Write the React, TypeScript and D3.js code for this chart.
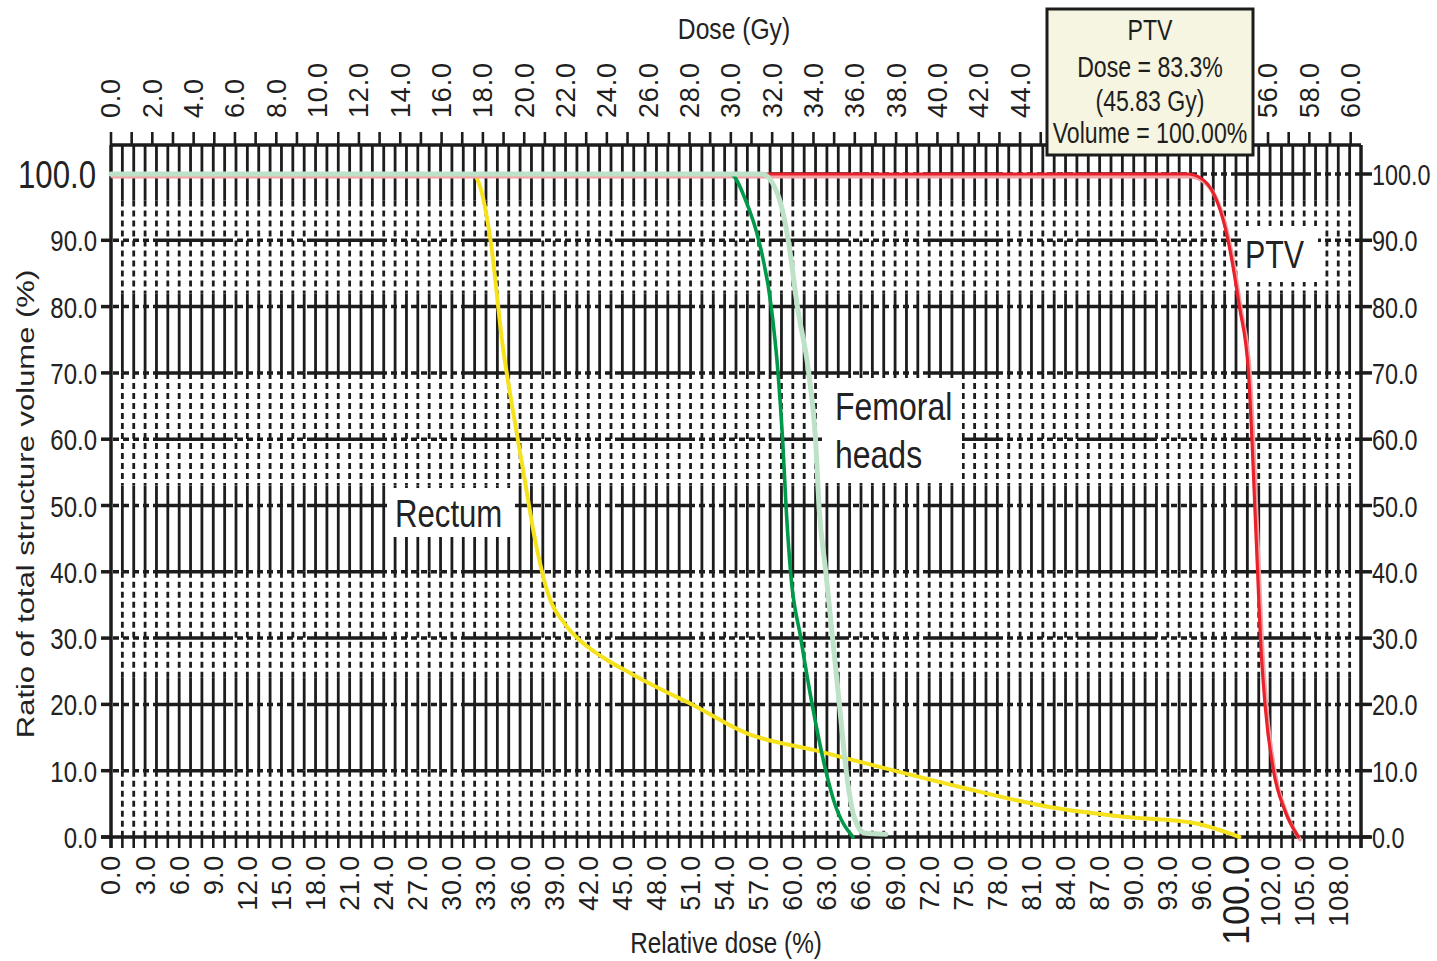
import * as d3 from "d3";

const FONT = '"Liberation Sans", Arial, Helvetica, sans-serif';
const INK = "#1c1c1c";

// DVH curves: relative dose (%) vs ratio of total structure volume (%)
const rectumDose = [0, 31.8, 32.4, 33.4, 34.5, 35.3, 36.3, 37.3, 38.4, 40.0, 41.3, 43.1, 45.7, 48.6, 51.0, 56.0, 61.9, 67.8, 74.8, 82.7, 89.5, 95.3, 99.3];
const rectumVol = [100, 100, 98.5, 90, 73.7, 65, 55, 45, 37, 32, 29.6, 27.3, 24.7, 22.1, 20.1, 15.6, 13.1, 10.5, 7.5, 4.5, 3.0, 2.1, 0];

const femDarkDose = [0, 54.5, 55.9, 57.0, 58.1, 58.7, 59.1, 59.4, 59.8, 60.7, 61.7, 62.9, 63.6, 65.3];
const femDarkVol = [100, 100, 95.8, 90, 80, 70, 60, 50, 40, 30, 20, 10, 5.5, 0];

const femLightDose = [0, 57.3, 58.7, 59.6, 60.4, 61.4, 62.0, 62.3, 62.9, 63.5, 64.1, 64.7, 65.4, 66.3, 68.2];
const femLightVol = [100, 100, 96.8, 90, 80, 70, 60, 50, 40, 30, 20, 10, 3, 0.6, 0.4];

const ptvDose = [0, 94.8, 96.2, 98.3, 99.3, 100.1, 100.4, 100.65, 100.9, 101.15, 101.55, 102.3, 103.3, 104.5];
const ptvVol = [100, 100, 99, 90, 80, 70, 60, 50, 40, 30, 20, 10, 4, 0];

// axes
const relTickValues = [0, 3, 6, 9, 12, 15, 18, 21, 24, 27, 30, 33, 36, 39, 42, 45, 48, 51, 54, 57, 60, 63, 66, 69, 72, 75, 78, 81, 84, 87, 90, 93, 96, 99, 102, 105, 108];
const relTickLabels = ["0.0", "3.0", "6.0", "9.0", "12.0", "15.0", "18.0", "21.0", "24.0", "27.0", "30.0", "33.0", "36.0", "39.0", "42.0", "45.0", "48.0", "51.0", "54.0", "57.0", "60.0", "63.0", "66.0", "69.0", "72.0", "75.0", "78.0", "81.0", "84.0", "87.0", "90.0", "93.0", "96.0", "100.0", "102.0", "105.0", "108.0"];
const gyTickValues = [0, 2, 4, 6, 8, 10, 12, 14, 16, 18, 20, 22, 24, 26, 28, 30, 32, 34, 36, 38, 40, 42, 44, 46, 48, 50, 52, 54, 56, 58, 60];
const gyTickLabels = ["0.0", "2.0", "4.0", "6.0", "8.0", "10.0", "12.0", "14.0", "16.0", "18.0", "20.0", "22.0", "24.0", "26.0", "28.0", "30.0", "32.0", "34.0", "36.0", "38.0", "40.0", "42.0", "44.0", "46.0", "48.0", "50.0", "52.0", "54.0", "56.0", "58.0", "60.0"];
const volTickValues = [0, 10, 20, 30, 40, 50, 60, 70, 80, 90, 100];
const volTickLabels = ["0.0", "10.0", "20.0", "30.0", "40.0", "50.0", "60.0", "70.0", "80.0", "90.0", "100.0"];

const ptvBoxLines = ["PTV", "Dose = 83.3%", "(45.83 Gy)", "Volume = 100.00%"];

// the scanned grid shows solid / dashed bands on the vertical lines
const gridBands = [
  { from: 105, to: 96, dashed: false },
  { from: 96, to: 82, dashed: true },
  { from: 82, to: 70, dashed: false },
  { from: 70, to: 53, dashed: true },
  { from: 53, to: 40, dashed: false },
  { from: 40, to: 24, dashed: true },
  { from: 24, to: 10, dashed: false },
  { from: 10, to: 0, dashed: true },
];

function HText({ x, y, size, anchor = "middle", sx = 0.8, children, fill = "#222" }: any) {
  return (
    <text
      transform={`translate(${x},${y}) scale(${sx},1)`}
      textAnchor={anchor}
      fontSize={size}
      fontFamily={FONT}
      fill={fill}
    >
      {children}
    </text>
  );
}

export default function App() {
  const x = d3.scaleLinear().domain([0, 110]).range([111, 1361]);
  const xGy = d3.scaleLinear().domain([0, 60.5]).range([111, 1361]);
  const y = d3.scaleLinear().domain([0, 100]).range([837, 174]);
  const top = 145;
  const bottom = y(0);
  const left = x(0);
  const right = x(110);

  const line = d3
    .line<[number, number]>()
    .x((d) => x(d[0]))
    .y((d) => y(d[1]))
    .curve(d3.curveMonotoneX);

  const zip = (a: number[], b: number[]) => a.map((v, i) => [v, b[i]] as [number, number]);
  const rectumPath = line(zip(rectumDose, rectumVol))!;
  const darkPath = line(zip(femDarkDose, femDarkVol))!;
  const lightPath = line(zip(femLightDose, femLightVol))!;
  const ptvPath = line(zip(ptvDose, ptvVol))!;

  const gridX = d3.range(1, 110);
  const relMinor = d3.range(0, 111);
  const gyMinor = d3.range(0, 61);

  const hDash = "80 4 6 4 6 4 6 4 6 4 6 4 6 4 6 4";

  return (
    <svg
      width={1437}
      height={961}
      style={{ position: "absolute", left: 0, top: 0, background: "#fff" }}
    >
      <rect width={1437} height={961} fill="#fff" />

      {/* vertical grid */}
      <g stroke={INK} strokeWidth={2.8}>
        {gridX.map((v) =>
          gridBands.map((b, i) => (
            <line
              key={`${v}-${i}`}
              x1={x(v)}
              x2={x(v)}
              y1={Math.max(top, y(b.from))}
              y2={y(b.to)}
              strokeDasharray={b.dashed ? "6 4" : undefined}
            />
          ))
        )}
      </g>

      {/* horizontal major grid */}
      <g stroke={INK} strokeWidth={3.5}>
        {volTickValues.slice(1).map((v) => (
          <line
            key={v}
            x1={left}
            x2={right}
            y1={y(v)}
            y2={y(v)}
            strokeDasharray={hDash}
            strokeDashoffset={112}
          />
        ))}
      </g>

      {/* frame and ticks */}
      <g stroke={INK} strokeWidth={3.5}>
        <line x1={left} x2={right} y1={top} y2={top} />
        <line x1={left} x2={left} y1={top} y2={bottom + 11} />
        <line x1={right} x2={right} y1={top} y2={bottom + 11} />
        <line x1={left - 10} x2={right + 10} y1={bottom} y2={bottom} />
        {volTickValues.slice(0, -1).map((v) => (
          <line key={`l${v}`} x1={left - 10} x2={left} y1={y(v)} y2={y(v)} />
        ))}
        {volTickValues.map((v) => (
          <line key={`r${v}`} x1={right} x2={right + 11} y1={y(v)} y2={y(v)} />
        ))}
      </g>
      <g stroke={INK} strokeWidth={2.6}>
        {relMinor.map((v) => (
          <line key={`b${v}`} x1={x(v)} x2={x(v)} y1={bottom} y2={bottom + 11} />
        ))}
        {gyMinor.map((v) => (
          <line key={`t${v}`} x1={xGy(v)} x2={xGy(v)} y1={top - 13} y2={top} />
        ))}
      </g>

      {/* curves */}
      <g fill="none" strokeLinejoin="round" strokeLinecap="round">
        <path d={rectumPath} stroke="#f6e21c" strokeWidth={4} />
        <path d={ptvPath} stroke="#f4a2a5" strokeWidth={4} transform="translate(1.5,2.5)" />
        <path d={ptvPath} stroke="#e8212a" strokeWidth={3.2} />
        <path d={darkPath} stroke="#00994a" strokeWidth={3.6} />
        <path d={lightPath} stroke="#bde2c8" strokeWidth={5} />
      </g>

      {/* left volume labels */}
      {volTickValues.map((v, i) =>
        v === 100 ? (
          <HText key={v} x={96} y={y(v) + 14} size={39} anchor="end">
            {volTickLabels[i]}
          </HText>
        ) : (
          <HText key={v} x={97} y={y(v) + 11} size={30} anchor="end">
            {volTickLabels[i]}
          </HText>
        )
      )}
      {/* right volume labels */}
      {volTickValues.map((v, i) => (
        <HText key={`r${v}`} x={right + 11} y={y(v) + 11} size={30} anchor="start" sx={0.78}>
          {volTickLabels[i]}
        </HText>
      ))}

      {/* bottom relative dose labels */}
      {relTickValues.map((v, i) => (
        <text
          key={`rel${v}`}
          transform={`translate(${x(v)},855) rotate(-90)`}
          textAnchor="end"
          dy="0.35em"
          fontSize={v === 99 ? 36 : 27}
          letterSpacing={v === 99 ? 0 : 0.8}
          fontFamily={FONT}
          fill="#1e1e1e"
        >
          {relTickLabels[i]}
        </text>
      ))}

      {/* top Gy labels */}
      {gyTickValues.map((v, i) => (
        <text
          key={`gy${v}`}
          transform={`translate(${xGy(v)},118) rotate(-90)`}
          textAnchor="start"
          dy="0.35em"
          fontSize={27}
          letterSpacing={0.8}
          fontFamily={FONT}
          fill="#1e1e1e"
        >
          {gyTickLabels[i]}
        </text>
      ))}

      {/* axis titles */}
      <HText x={734} y={39} size={29} sx={0.85}>
        Dose (Gy)
      </HText>
      <HText x={726} y={953} size={30} sx={0.81}>
        Relative dose (%)
      </HText>
      <text
        transform="translate(34,504) rotate(-90) scale(1,0.8)"
        textAnchor="middle"
        fontSize={31}
        fontFamily={FONT}
        fill="#222"
      >
        Ratio of total structure volume (%)
      </text>

      {/* curve labels */}
      <rect x={388} y={488} width={127} height={49} fill="#fff" />
      <HText x={395} y={527} size={38} anchor="start" sx={0.82}>
        Rectum
      </HText>
      <rect x={822} y={378} width={140} height={104} fill="#fff" />
      <HText x={835} y={420} size={39} anchor="start" sx={0.82}>
        Femoral
      </HText>
      <HText x={835} y={468} size={39} anchor="start" sx={0.82}>
        heads
      </HText>
      <rect x={1241} y={226} width={77} height={56} fill="#fff" />
      <HText x={1245} y={268} size={38} anchor="start" sx={0.8}>
        PTV
      </HText>

      {/* PTV readout box */}
      <rect x={1047} y={9} width={206} height={146} fill="#f5f5e1" stroke={INK} strokeWidth={3} />
      {ptvBoxLines.map((t, i) => (
        <HText key={t} x={1150} y={[40, 77, 111, 143][i]} size={30} sx={0.77} fill="#1e1e1e">
          {t}
        </HText>
      ))}
    </svg>
  );
}
